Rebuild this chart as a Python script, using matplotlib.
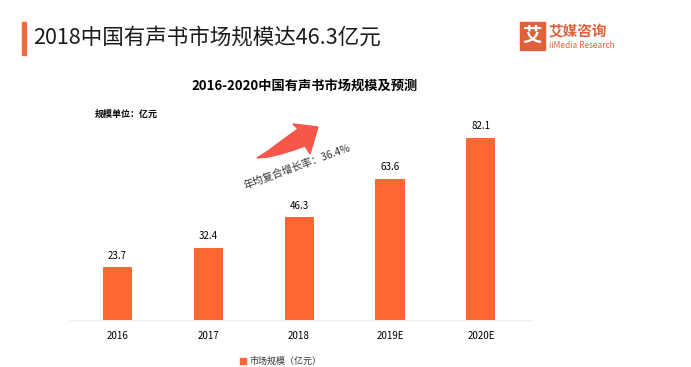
import matplotlib.pyplot as plt
from matplotlib.patches import Rectangle, Polygon

plt.rcParams['font.family'] = ['Noto Sans CJK SC', 'DejaVu Sans']

## Data
years = ['2016', '2017', '2018', '2019E', '2020E']
market = [23.7, 32.4, 46.3, 63.6, 82.1]
bar_color = '#FF6633'

W, H = 691, 367
fig = plt.figure(figsize=(W / 100, H / 100), dpi=100)

def fx(px):
    return px / W

def fy(py):
    return 1 - py / H

## Header
fig.patches.append(Rectangle((fx(22), fy(55)), fx(4), 33 / H, transform=fig.transFigure,
                             color='#F26B3A', zorder=5))
fig.text(fx(33), fy(38), '2018中国有声书市场规模达46.3亿元', fontsize=15.5, va='center', color='#1a1a1a')

## Logo
fig.patches.append(Rectangle((fx(520), fy(50)), fx(25), 28 / H, transform=fig.transFigure,
                             color='#E0603A', zorder=5))
fig.text(fx(532.5), fy(36), '艾', fontsize=14, color='white', ha='center', va='center',
         fontweight='bold', zorder=6)
fig.text(fx(549), fy(31), '艾媒咨询', fontsize=10.5, color='#E0603A', va='center', fontweight='bold')
fig.text(fx(549), fy(45), 'iiMedia Research', fontsize=6, color='#E0603A', va='center')

## Chart title and unit
fig.text(fx(305), fy(86), '2016-2020中国有声书市场规模及预测', fontsize=9.5, fontweight='bold',
         ha='center', va='center')
fig.text(fx(95), fy(114), '规模单位：亿元', fontsize=6.5, fontweight='bold', va='center')

## Bars
ax = fig.add_axes([fx(70), fy(320), fx(530) - fx(70), 190 / H])
x = range(len(years))
ax.bar(x, market, width=0.32, color=bar_color, zorder=3)
for i, v in zip(x, market):
    ax.text(i, v + 3, str(v), ha='center', va='bottom', fontsize=7, clip_on=False)
ax.set_xlim(-0.52, 4.54)
ax.set_ylim(0, 190 / 2.22)
ax.set_xticks(list(x))
ax.set_xticklabels(years, fontsize=7)
ax.tick_params(axis='x', length=0, pad=8)
ax.set_yticks([])
for s in ['top', 'right', 'left']:
    ax.spines[s].set_visible(False)
ax.spines['bottom'].set_color('#eeeeee')

## Growth arrow (swoosh shape, pixel outline)
arrow_px = [(257, 158), (268, 151), (280, 142), (291, 134), (298, 129), (293, 124),
            (318, 127), (310, 154), (305, 146), (294, 150), (281, 154), (268, 157)]
fig.patches.append(Polygon([(fx(a), fy(b)) for a, b in arrow_px], closed=True,
                           transform=fig.transFigure, color='#F5574A', zorder=4))
fig.text(fx(297), fy(167), '年均复合增长率：36.4%', fontsize=7.5, rotation=20,
         ha='center', va='center', color='#333333')

## Legend
fig.patches.append(Rectangle((fx(240), fy(364)), fx(6), 6 / H, transform=fig.transFigure,
                             color=bar_color))
fig.text(fx(249), fy(361), '市场规模（亿元）', fontsize=6.5, va='center', color='#333333')

fig.savefig('out.png', dpi=100)
